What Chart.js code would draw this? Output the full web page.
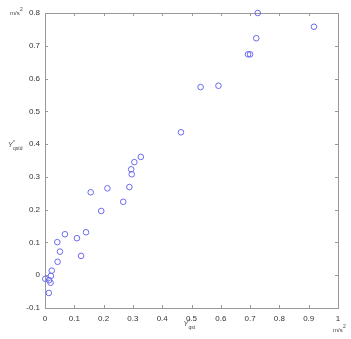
<!DOCTYPE html>
<html>
<head>
<meta charset="utf-8">
<script src="https://cdn.jsdelivr.net/npm/chart.js@4"></script>
<style>
  html,body{margin:0;padding:0;background:#fff;}
  #wrap{width:351px;height:339px;position:relative;}
</style>
</head>
<body>
<div id="wrap"><canvas id="c"></canvas></div>
<script>
// measured Y*qst (x) vs Y*qstd (y), m/s^2
const qst  = [0.001,0.014,0.019,0.020,0.023,0.013,0.043,0.051,0.042,0.068,0.109,0.123,0.140,0.156,0.192,0.213,0.267,0.288,0.296,0.294,0.305,0.327,0.464,0.531,0.592,0.693,0.700,0.721,0.726,0.918];
const qstd = [-0.011,-0.015,-0.023,-0.002,0.014,-0.054,0.041,0.072,0.101,0.125,0.113,0.059,0.131,0.253,0.196,0.265,0.224,0.269,0.308,0.323,0.345,0.361,0.436,0.574,0.578,0.674,0.674,0.723,0.800,0.758];
const xTicks = [0,0.1,0.2,0.3,0.4,0.5,0.6,0.7,0.8,0.9,1];
const yTicks = [-0.1,0,0.1,0.2,0.3,0.4,0.5,0.6,0.7,0.8];

const pts = qst.map((x,i)=>({x, y:qstd[i]}));
const FONT = 'Liberation Sans, Arial, sans-serif';
const fmt = v => (Math.round(v*10)/10).toString();

// inward tick marks on all four sides + box (MATLAB look)
const boxTicks = {
  id:'boxTicks',
  beforeDatasetsDraw(chart){
    const {ctx, chartArea:a, scales:{x,y}} = chart;
    ctx.save();
    ctx.strokeStyle = '#999'; ctx.lineWidth = 1;
    ctx.strokeRect(a.left+0.5, a.top+0.5, a.right-a.left, a.bottom-a.top);
    ctx.beginPath();
    xTicks.forEach(v=>{
      const px = Math.round(x.getPixelForValue(v))+0.5;
      ctx.moveTo(px,a.top); ctx.lineTo(px,a.top+3);
      ctx.moveTo(px,a.bottom); ctx.lineTo(px,a.bottom-3);
    });
    yTicks.forEach(v=>{
      const py = Math.round(y.getPixelForValue(v))+0.5;
      ctx.moveTo(a.left,py); ctx.lineTo(a.left+3,py);
      ctx.moveTo(a.right,py); ctx.lineTo(a.right-3,py);
    });
    ctx.stroke();
    ctx.restore();
  },
  afterDraw(chart){
    const {ctx, chartArea:a, scales:{y}} = chart;
    ctx.save();
    ctx.fillStyle = '#444';
    const sym = (xx, yy, sub) => {
      ctx.font = 'italic 7px ' + FONT;
      ctx.textAlign = 'left'; ctx.textBaseline = 'alphabetic';
      ctx.fillText('Y', xx, yy);
      ctx.font = '5px ' + FONT;
      ctx.fillText('*', xx+5, yy-3);
      ctx.fillText(sub, xx+5, yy+3);
    };
    sym(8, y.getPixelForValue(0.4)+3, 'qstd');
    sym((a.left+a.right)/2 - 8, 326, 'qst');
    const unit = (xx, yy) => {
      ctx.font = '6px ' + FONT;
      ctx.textAlign = 'left';
      ctx.fillText('m/s', xx, yy);
      ctx.font = '5px ' + FONT;
      ctx.fillText('2', xx+10, yy-4);
    };
    unit(10, a.top+2);
    unit(333, 332);
    ctx.restore();
  }
};

new Chart(document.getElementById('c'), {
  type:'scatter',
  data:{ datasets:[{
    data: pts,
    clip: false,
    pointStyle:'circle',
    pointRadius: 2.8,
    pointBorderWidth: 1,
    pointBorderColor:'#6a6af0',
    pointBackgroundColor:'rgba(0,0,0,0)'
  }]},
  options:{
    responsive:true, maintainAspectRatio:false, animation:false,
    layout:{ padding:{ top:13, right:13, left:0, bottom:0 } },
    plugins:{ legend:{display:false}, tooltip:{enabled:false} },
    scales:{
      x:{
        type:'linear', min:0, max:1,
        afterBuildTicks: s => { s.ticks = xTicks.map(v=>({value:v})); },
        afterFit: s => { s.height = 31; },
        grid:{ display:false, drawTicks:false },
        border:{ display:false },
        ticks:{ callback: fmt, padding:6, maxRotation:0, color:'#333', font:{ family:FONT, size:8 } }
      },
      y:{
        type:'linear', min:-0.1, max:0.8,
        afterBuildTicks: s => { s.ticks = yTicks.map(v=>({value:v})); },
        afterFit: s => { s.width = 45; },
        grid:{ display:false, drawTicks:false },
        border:{ display:false },
        ticks:{ callback: fmt, padding:5, color:'#333', font:{ family:FONT, size:8 } }
      }
    }
  },
  plugins:[boxTicks]
});
</script>
</body>
</html>
